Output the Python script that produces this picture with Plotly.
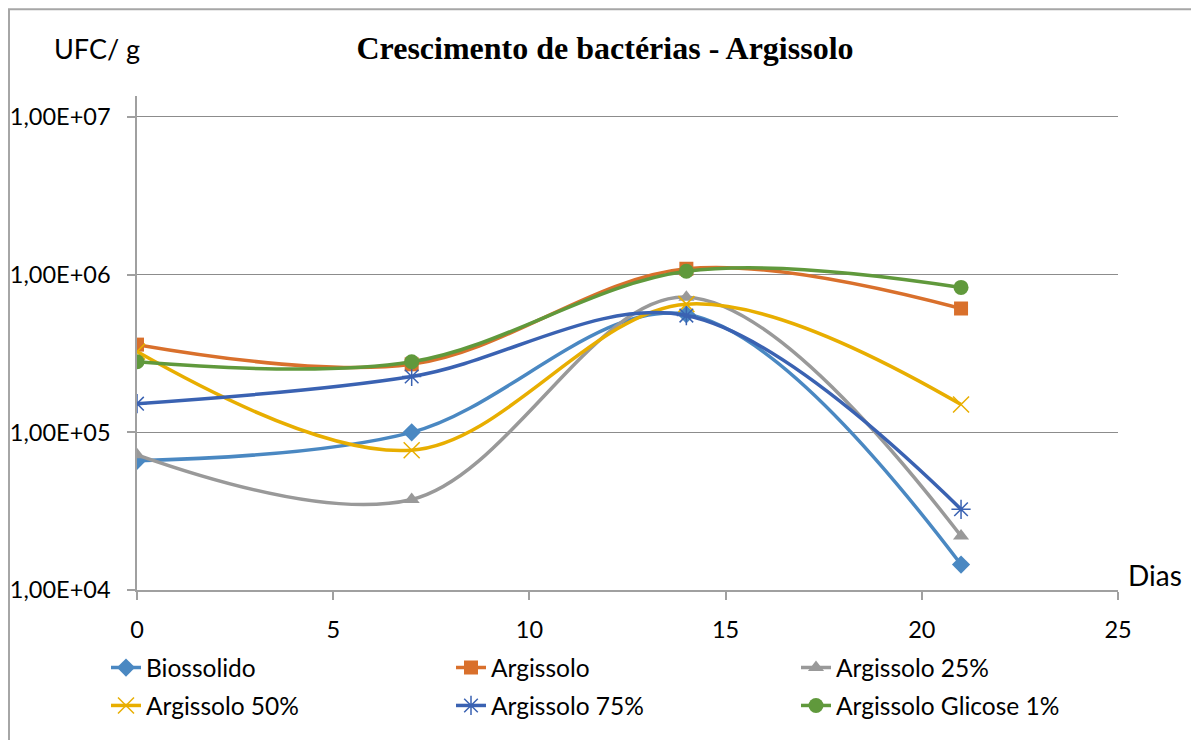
import plotly.graph_objects as go

# dias de incubação
dias = [0, 7, 14, 21]

# UFC/g por tratamento
biossolido = [6.6e4, 1.0e5, 5.6e5, 1.45e4]
argissolo = [3.6e5, 2.7e5, 1.09e6, 6.1e5]
argissolo_25 = [7.2e4, 3.75e4, 7.2e5, 2.2e4]
argissolo_50 = [3.25e5, 7.7e4, 6.5e5, 1.5e5]
argissolo_75 = [1.52e5, 2.26e5, 5.5e5, 3.25e4]
argissolo_glicose = [2.8e5, 2.8e5, 1.05e6, 8.3e5]

nomes = ["Biossolido", "Argissolo", "Argissolo 25%",
         "Argissolo 50%", "Argissolo 75%", "Argissolo Glicose 1%"]

y_tickvals = [1e4, 1e5, 1e6, 1e7]
y_ticktext = ["1,00E+04", "1,00E+05", "1,00E+06", "1,00E+07"]
x_tickvals = [0, 5, 10, 15, 20, 25]

series = [biossolido, argissolo, argissolo_25, argissolo_50, argissolo_75, argissolo_glicose]
colors = ["#4A88C2", "#D9702C", "#999999", "#E8AE00", "#3A62B2", "#60993C"]
symbols = ["diamond", "square", "triangle-up", "x-thin-open", "asterisk-open", "circle"]
sizes = [14, 14, 14, 16, 16, 15]
legends = ["legend", "legend", "legend", "legend2", "legend2", "legend2"]

FONT = "Lato"

# geometria (px da figura; a página desloca tudo 8 px)
W, H = 1191, 732
L, R, T, B = 129, 81, 88, 148
PW, PH = W - L - R, H - T - B


def px(x):
    return (x - L) / PW


def py(y):
    return (H - B - y) / PH


fig = go.Figure()
for name, vals, c, sym, sz, lg in zip(nomes, series, colors, symbols, sizes, legends):
    open_sym = sym.endswith("open")
    fig.add_trace(
        go.Scatter(
            x=dias,
            y=vals,
            name=name,
            mode="lines+markers",
            line=dict(color=c, width=3.5, shape="spline", smoothing=1.0),
            marker=dict(symbol=sym, size=sz, color=c, line=dict(color=c, width=1.5 if open_sym else 0)),
            legend=lg,
        )
    )

# moldura do gráfico
fig.add_shape(
    type="rect", xref="paper", yref="paper",
    x0=px(1), x1=1.3, y0=-0.6, y1=py(1),
    line=dict(color="#A6A6A6", width=2), fillcolor="rgba(0,0,0,0)", layer="below",
)

fig.add_annotation(
    text="UFC/ g", xref="paper", yref="paper", x=px(89), y=py(40),
    xanchor="center", yanchor="middle",
    showarrow=False, font=dict(family=FONT, size=27, color="#000000"),
)
fig.add_annotation(
    text="Dias", xref="paper", yref="paper", x=px(1147), y=py(569),
    xanchor="center", yanchor="middle",
    showarrow=False, font=dict(family=FONT, size=28, color="#000000"),
)

fig.update_xaxes(
    range=[0, 25], tickvals=x_tickvals, showgrid=False, zeroline=False,
    showline=True, linecolor="#A0A0A0", linewidth=1.5,
    ticks="outside", ticklen=8, tickcolor="#A0A0A0", tickwidth=1.5,
    ticklabelstandoff=10, automargin=False,
    tickfont=dict(family=FONT, size=23.5, color="#000000"),
)
fig.update_yaxes(
    type="log", range=[4, 7.133], tickvals=y_tickvals, ticktext=y_ticktext,
    showgrid=True, gridcolor="#8C8C8C", gridwidth=1.2, zeroline=False,
    showline=True, linecolor="#A0A0A0", linewidth=1.5,
    ticks="outside", ticklen=8, tickcolor="#A0A0A0", tickwidth=1.5,
    ticklabelstandoff=12, automargin=False,
    tickfont=dict(family=FONT, size=23.5, color="#000000"),
)

legend_common = dict(
    orientation="h", xanchor="left", yanchor="middle",
    entrywidth=300, entrywidthmode="pixels",
    font=dict(family=FONT, size=24.5, color="#000000"),
    bgcolor="rgba(0,0,0,0)", itemclick=False, itemdoubleclick=False,
)

fig.update_layout(
    width=W,
    height=H,
    margin=dict(l=L, r=R, t=T, b=B),
    paper_bgcolor="#FFFFFF",
    plot_bgcolor="#FFFFFF",
    title=dict(
        text="<b>Crescimento de bactérias - Argissolo</b>",
        x=597 / W, xanchor="center", y=1 - 40 / H, yanchor="middle",
        font=dict(family="Liberation Serif", size=32, color="#000000"),
    ),
    showlegend=True,
    legend=dict(x=px(98), y=py(662), **legend_common),
    legend2=dict(x=px(98), y=py(700), **legend_common),
)

fig.write_html("out.html")
